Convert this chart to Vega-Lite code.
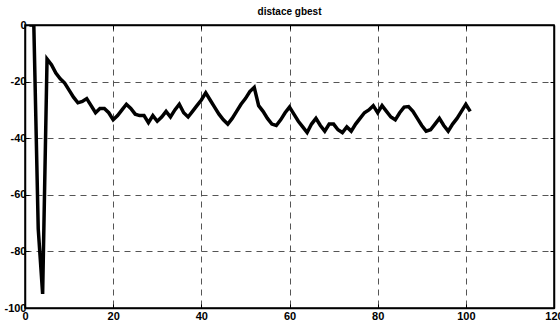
{
  "$schema": "https://vega.github.io/schema/vega-lite/v6.json",
  "width": 529,
  "height": 283,
  "autosize": "none",
  "padding": {"left": 25, "top": 25, "right": 6, "bottom": 24},
  "background": "white",
  "title": {"text": "distace gbest", "fontSize": 10, "font": "Liberation Sans", "fontWeight": "bold", "offset": 2, "color": "black"},
  "config": {
    "view": {"stroke": "black", "strokeWidth": 1.5},
    "axis": {"labelFont": "Liberation Sans Narrow, Liberation Sans", "labelFontWeight": "bold", "labelFontSize": 11, "labelColor": "black", "domainColor": "black", "domainWidth": 1.5, "tickColor": "black", "tickSize": -4, "gridColor": "#555", "gridDash": [6, 5], "gridWidth": 1, "gridOpacity": 1, "title": null}
  },
  "data": {"values": [
    {"x": 1, "y": 0}, {"x": 2, "y": 0}, {"x": 3, "y": -72}, {"x": 4, "y": -95}, {"x": 5, "y": -12},
    {"x": 6, "y": -14}, {"x": 7, "y": -17}, {"x": 8, "y": -19}, {"x": 9, "y": -20.5}, {"x": 10, "y": -23},
    {"x": 11, "y": -25.5}, {"x": 12, "y": -27.5}, {"x": 13, "y": -27}, {"x": 14, "y": -26}, {"x": 15, "y": -28.5},
    {"x": 16, "y": -31}, {"x": 17, "y": -29.5}, {"x": 18, "y": -29.5}, {"x": 19, "y": -31}, {"x": 20, "y": -33.5},
    {"x": 21, "y": -32}, {"x": 22, "y": -30}, {"x": 23, "y": -28}, {"x": 24, "y": -29.5}, {"x": 25, "y": -31.5},
    {"x": 26, "y": -32}, {"x": 27, "y": -32}, {"x": 28, "y": -34.5}, {"x": 29, "y": -32}, {"x": 30, "y": -34},
    {"x": 31, "y": -32.5}, {"x": 32, "y": -30.5}, {"x": 33, "y": -32.5}, {"x": 34, "y": -30}, {"x": 35, "y": -28},
    {"x": 36, "y": -31}, {"x": 37, "y": -32.5}, {"x": 38, "y": -30.5}, {"x": 39, "y": -28.5}, {"x": 40, "y": -26.5},
    {"x": 41, "y": -24}, {"x": 42, "y": -26.5}, {"x": 43, "y": -29}, {"x": 44, "y": -31.5}, {"x": 45, "y": -33.5},
    {"x": 46, "y": -35}, {"x": 47, "y": -33}, {"x": 48, "y": -30.5}, {"x": 49, "y": -28}, {"x": 50, "y": -26},
    {"x": 51, "y": -23.5}, {"x": 52, "y": -22}, {"x": 53, "y": -28.5}, {"x": 54, "y": -30.5}, {"x": 55, "y": -33},
    {"x": 56, "y": -35}, {"x": 57, "y": -35.5}, {"x": 58, "y": -33.5}, {"x": 59, "y": -31}, {"x": 60, "y": -29},
    {"x": 61, "y": -31.5}, {"x": 62, "y": -34}, {"x": 63, "y": -36}, {"x": 64, "y": -38}, {"x": 65, "y": -35},
    {"x": 66, "y": -33}, {"x": 67, "y": -35.5}, {"x": 68, "y": -37.5}, {"x": 69, "y": -35}, {"x": 70, "y": -35},
    {"x": 71, "y": -37}, {"x": 72, "y": -38}, {"x": 73, "y": -36}, {"x": 74, "y": -37.5}, {"x": 75, "y": -35},
    {"x": 76, "y": -33}, {"x": 77, "y": -31}, {"x": 78, "y": -30}, {"x": 79, "y": -28.5}, {"x": 80, "y": -31},
    {"x": 81, "y": -28.5}, {"x": 82, "y": -30.5}, {"x": 83, "y": -32.5}, {"x": 84, "y": -33.5}, {"x": 85, "y": -31},
    {"x": 86, "y": -29}, {"x": 87, "y": -28.8}, {"x": 88, "y": -30.5}, {"x": 89, "y": -33}, {"x": 90, "y": -35.5},
    {"x": 91, "y": -37.5}, {"x": 92, "y": -37}, {"x": 93, "y": -35}, {"x": 94, "y": -33}, {"x": 95, "y": -35.5},
    {"x": 96, "y": -37.5}, {"x": 97, "y": -35}, {"x": 98, "y": -33}, {"x": 99, "y": -30.5}, {"x": 100, "y": -28},
    {"x": 101, "y": -30.5}
  ]},
  "layer": [
    {
      "mark": {"type": "line", "color": "black", "strokeWidth": 3.5, "strokeJoin": "miter", "clip": true},
      "encoding": {
        "x": {"field": "x", "type": "quantitative", "scale": {"domain": [0, 120], "nice": false},
          "axis": {"values": [0, 20, 40, 60, 80, 100, 120], "grid": true, "labelPadding": 6, "labelFlush": false}},
        "y": {"field": "y", "type": "quantitative", "scale": {"domain": [-100, 0], "nice": false},
          "axis": {"values": [-100, -80, -60, -40, -20, 0], "grid": true, "labelPadding": 3, "labelExpr": "'' + datum.value", "labelFlush": false}}
      }
    },
    {
      "mark": {"type": "point", "opacity": 0},
      "encoding": {
        "x": {"field": "x", "type": "quantitative", "axis": {"orient": "top", "values": [0, 20, 40, 60, 80, 100, 120], "labels": false, "grid": false}},
        "y": {"field": "y", "type": "quantitative", "axis": {"orient": "right", "values": [-100, -80, -60, -40, -20, 0], "labels": false, "grid": false}}
      }
    }
  ],
  "resolve": {"axis": {"x": "independent", "y": "independent"}}
}
